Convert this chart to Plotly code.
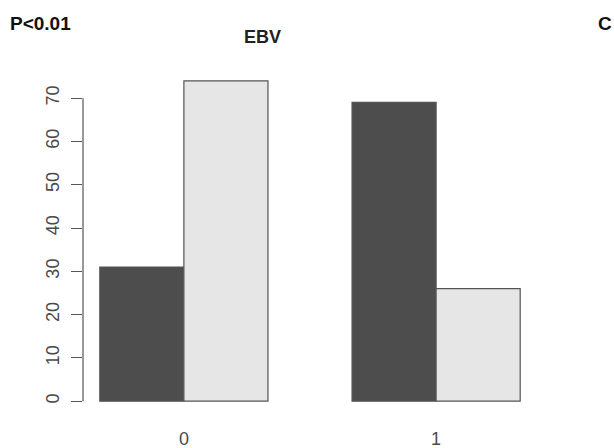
import plotly.graph_objects as go

categories = ["0", "1"]
dark_values = [31, 69]
light_values = [74, 26]
y_ticks = [0, 10, 20, 30, 40, 50, 60, 70]
title_text = "EBV"
panel_text = "P<0.01"
corner_text = "C"

# R barplot(beside=TRUE) layout: bar width 1, group gap 1
n = len(categories)
dark_x = [1 + 3 * i + 0.5 for i in range(n)]
light_x = [1 + 3 * i + 1.5 for i in range(n)]
group_centers = [1 + 3 * i + 1 for i in range(n)]
xmax = 3 * n
xr = [1 - 0.04 * (xmax - 1), xmax + 0.04 * (xmax - 1)]
ymax = max(dark_values + light_values)
yr = [-0.04 * ymax, ymax * 1.04]

fig = go.Figure()
fig.add_trace(go.Bar(x=dark_x, y=dark_values, width=1,
                     marker=dict(color="#4D4D4D", line=dict(color="#555555", width=1.2))))
fig.add_trace(go.Bar(x=light_x, y=light_values, width=1,
                     marker=dict(color="#E6E6E6", line=dict(color="#555555", width=1.2))))

font_fam = "Liberation Sans, Arial, Helvetica, sans-serif"
L, R, T, B = 83.2, 77.2, 67.8, 34.2
PW, PH = 614 - L - R, 448 - T - B
fig.update_layout(
    width=614, height=448,
    margin=dict(l=L, r=R, t=T, b=B, autoexpand=False),
    plot_bgcolor="white", paper_bgcolor="white",
    showlegend=False, barmode="overlay",
    font=dict(family=font_fam, color="#444444", size=18),
    xaxis=dict(range=xr, tickmode="array", tickvals=group_centers, ticktext=categories,
               showgrid=False, zeroline=False, showline=False, automargin=False,
               ticks="outside", ticklen=8, tickcolor="rgba(0,0,0,0)",
               tickfont=dict(size=18, color="#4a4a4a")),
    yaxis=dict(range=yr, tickmode="array", tickvals=y_ticks,
               showgrid=False, zeroline=False, showline=False, automargin=False,
               ticks="outside", ticklen=11, tickcolor="#555555", tickwidth=1.2,
               ticklabelstandoff=5,
               tickangle=-90, tickfont=dict(size=18, color="#4a4a4a")),
)
# R-style axis line spanning only the tick range
fig.add_shape(type="line", xref="paper", yref="y", x0=0, x1=0,
              y0=min(y_ticks), y1=max(y_ticks), line=dict(color="#555555", width=1.2))

fig.add_annotation(text="<b>" + title_text + "</b>", xref="paper", yref="paper",
                   x=(263 - L) / PW, y=1 + (T - 37) / PH,
                   xanchor="center", yanchor="middle", showarrow=False,
                   font=dict(size=18, color="#222222", family=font_fam))
fig.add_annotation(text="<b>" + panel_text + "</b>", xref="paper", yref="paper",
                   x=(8 - L) / PW, y=1 + (T - 23) / PH,
                   xanchor="left", yanchor="middle", showarrow=False,
                   font=dict(size=19, color="#111111", family=font_fam))
fig.add_annotation(text="<b>" + corner_text + "</b>", xref="paper", yref="paper",
                   x=(614 - L) / PW, y=1 + (T - 23) / PH,
                   xanchor="right", yanchor="middle", showarrow=False,
                   font=dict(size=19, color="#111111", family=font_fam))

fig.write_html("out.html")
